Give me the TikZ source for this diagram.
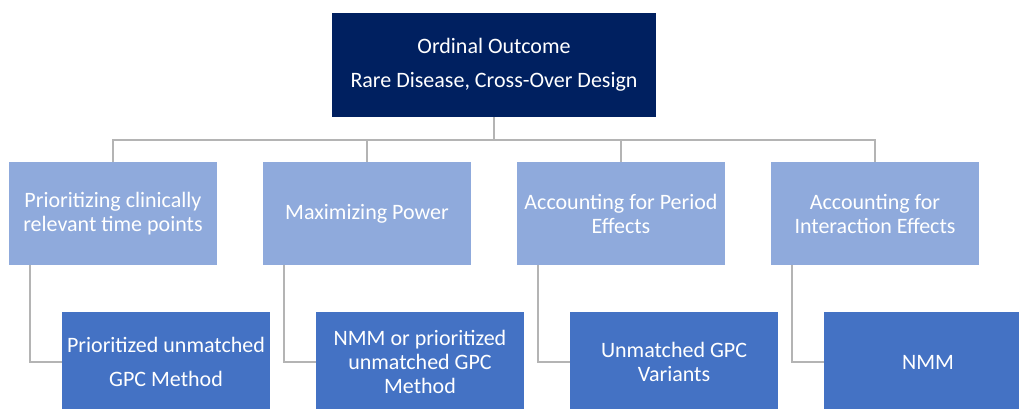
\documentclass[tikz,border=0pt]{standalone}
\usepackage{fontspec}
\setmainfont{Carlito}
\definecolor{navy}{HTML}{002060}
\definecolor{aimblue}{HTML}{8FAADC}
\definecolor{methodblue}{HTML}{4472C4}
\definecolor{linegray}{HTML}{B4B4B4}

\begin{document}
\begin{tikzpicture}[x=1pt,y=1pt,level distance=148.5pt]
        \tikzstyle{every node}=[rectangle,text=white,align=center,inner sep=0pt,font=\fontsize{22}{24}\selectfont]
        \tikzstyle{edge from parent}=[draw=linegray,line width=1.6pt]
        \tikzstyle{level 1}=[sibling distance=254pt, edge from parent path={(\tikzparentnode.south) -- ++(0,-23) -| (\tikzchildnode.north)}]
        \tikzstyle{level 2}=[edge from parent path={([xshift=21pt]\tikzparentnode.south west) |- (\tikzchildnode.west)}]
        \tikzstyle{rootbox}=[fill=navy,minimum width=324pt,minimum height=104pt]
        \tikzstyle{aimbox}=[fill=aimblue,minimum width=208pt,minimum height=103pt]
        \tikzstyle{methodbox}=[fill=methodblue,minimum width=208pt,minimum height=100pt,xshift=53pt]
        \useasboundingbox (0,0) rectangle (1019,-409);
        \clip (0,0) rectangle (1019,-409);
        \node[rootbox] (root) at (494,-65) {Ordinal Outcome\\[10pt]Rare Disease, Cross-Over Design}
            child {node[aimbox] (aim1) {Prioritizing clinically\\relevant time points}
                child {node[methodbox] (meth1) {Prioritized unmatched\\[10pt]GPC Method}}}
            child {node[aimbox] (aim2) {Maximizing Power}
                child {node[methodbox] (meth2) {NMM or prioritized\\unmatched GPC\\Method}}}
            child {node[aimbox] (aim3) {Accounting for Period\\Effects}
                child {node[methodbox] (meth3) {Unmatched GPC\\Variants}}}
            child {node[aimbox] (aim4) {Accounting for\\Interaction Effects}
                child {node[methodbox] (meth4) {NMM}}};
\end{tikzpicture}
\end{document}
